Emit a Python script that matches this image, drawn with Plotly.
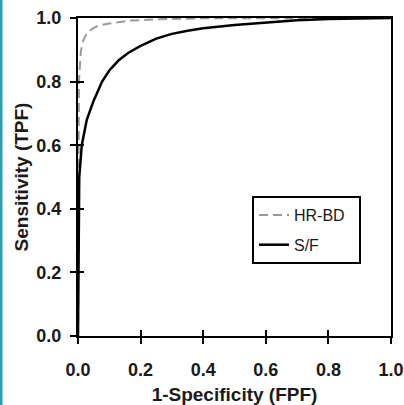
import plotly.graph_objects as go

# ROC curve data
sf_fpf = [0, 0.001, 0.004, 0.012, 0.028, 0.05, 0.077, 0.1, 0.13, 0.16, 0.2, 0.25, 0.3,
          0.35, 0.4, 0.5, 0.6, 0.7, 0.8, 0.9, 1.0]
sf_tpf = [0, 0.3, 0.5, 0.6, 0.68, 0.74, 0.8, 0.835, 0.867, 0.89, 0.912, 0.935, 0.95,
          0.96, 0.968, 0.978, 0.986, 0.993, 0.997, 0.999, 1.0]

hr_fpf = [0, 0.001, 0.003, 0.009, 0.017, 0.028, 0.045, 0.065, 0.1, 0.17, 0.25, 0.4, 0.6, 0.8, 1.0]
hr_tpf = [0, 0.6, 0.8, 0.895, 0.93, 0.951, 0.966, 0.976, 0.983, 0.992, 0.996, 0.999, 1.0, 1.0, 1.0]

tick_vals = [0.0, 0.2, 0.4, 0.6, 0.8, 1.0]
tick_text = ["0.0", "0.2", "0.4", "0.6", "0.8", "1.0"]

W, H = 404, 405
ML, MR, MT, MB = 78, 13, 18, 69
PW, PH = W - ML - MR, H - MT - MB

FONT = "Liberation Sans, Arial, Helvetica, sans-serif"

fig = go.Figure()
fig.add_trace(go.Scatter(x=hr_fpf, y=hr_tpf, mode="lines", name="HR-BD\u00a0\u00a0",
                         legendgroup="a",
                         line=dict(color="#9a9a9a", width=2, dash="9px,5px")))
fig.add_trace(go.Scatter(x=sf_fpf, y=sf_tpf, mode="lines", name="S/F",
                         legendgroup="b",
                         line=dict(color="#000000", width=2.5)))
# invisible trace to activate overlay axes (inside half of crossing ticks)
fig.add_trace(go.Scatter(x=[None], y=[None], xaxis="x2", yaxis="y2",
                         showlegend=False, hoverinfo="skip"))

axis_common = dict(range=[0, 1], tickvals=tick_vals, ticktext=tick_text,
                   showgrid=False, zeroline=False, showline=True, linecolor="#000",
                   linewidth=2, mirror=True, ticks="outside", ticklen=6,
                   tickwidth=2, tickcolor="#000", automargin=False,
                   tickfont=dict(family=FONT, size=18, color="#1a1a1a", weight="bold"))

fig.update_layout(
    width=W, height=H,
    margin=dict(l=ML, r=MR, t=MT, b=MB),
    paper_bgcolor="white", plot_bgcolor="white",
    showlegend=True,
    legend=dict(x=(252 - ML) / PW, y=(MT + PH - 196) / PH, xanchor="left", yanchor="top",
                bgcolor="white", bordercolor="#000", borderwidth=2,
                font=dict(family=FONT, size=16, color="#1a1a1a"),
                tracegroupgap=6),
    xaxis=dict(**axis_common, ticklabelstandoff=10,
               title=dict(text="1-Specificity (FPF)", standoff=13,
                          font=dict(family=FONT, size=19, color="#1a1a1a", weight="bold"))),
    yaxis=dict(**axis_common, ticklabelstandoff=5,
               title=dict(text="Sensitivity (TPF)", standoff=3,
                          font=dict(family=FONT, size=19, color="#1a1a1a", weight="bold"))),
    xaxis2=dict(range=[0, 1], overlaying="x", side="bottom", tickvals=tick_vals,
                showticklabels=False, showgrid=False, zeroline=False, showline=False,
                ticks="inside", ticklen=6, tickwidth=2, tickcolor="#000"),
    yaxis2=dict(range=[0, 1], overlaying="y", side="left", tickvals=tick_vals,
                showticklabels=False, showgrid=False, zeroline=False, showline=False,
                ticks="inside", ticklen=6, tickwidth=2, tickcolor="#000"),
)

# teal frame edge of the original figure panel (left side)
fig.add_shape(type="rect", xref="paper", yref="paper",
              x0=(0 - ML) / PW, x1=(2.5 - ML) / PW,
              y0=-(MB + 2) / PH, y1=1 + (MT + 2) / PH,
              fillcolor="#2a9fb3", line=dict(width=0), layer="above")

fig.write_html("out.html", config={"displayModeBar": False},
               post_script="document.body.style.margin='0';document.body.style.overflow='hidden';")
